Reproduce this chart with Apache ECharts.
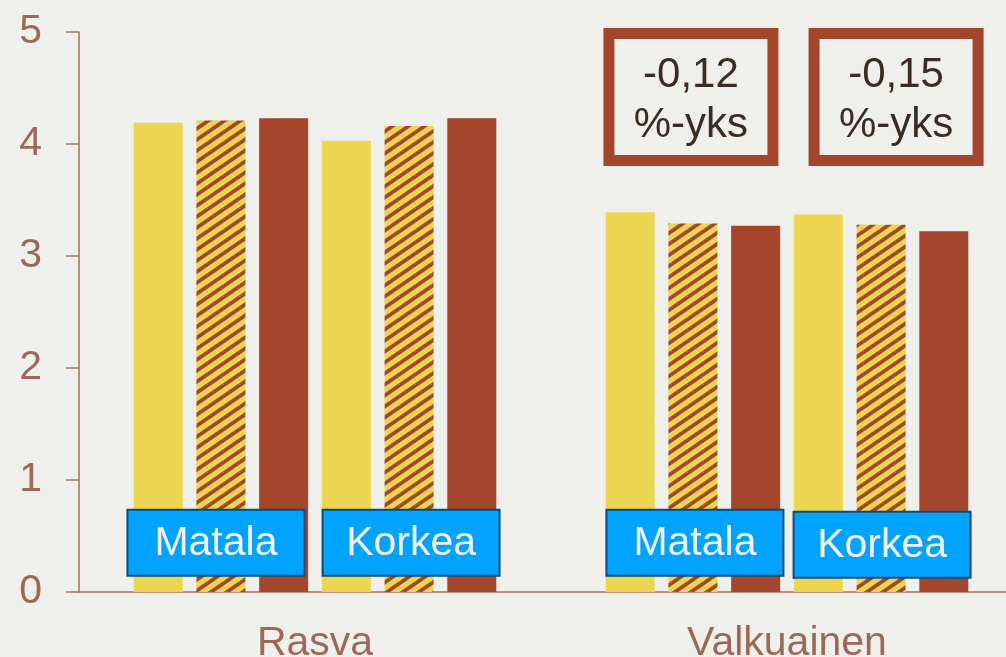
<!DOCTYPE html>
<html>
<head>
<meta charset="utf-8">
<script src="https://cdn.jsdelivr.net/npm/echarts@6/dist/echarts.min.js"></script>
<style>
  html, body { margin: 0; padding: 0; background: #EFF0EB; }
  #chart { width: 1006px; height: 657px; }
</style>
</head>
<body>
<div id="chart"></div>
<script>
// data
const categories = ['Rasva', 'Valkuainen'];
const groups = ['Matala', 'Korkea'];
const matala1 = [4.19, 3.39];
const matala2 = [4.21, 3.29];
const matala3 = [4.23, 3.27];
const korkea1 = [4.03, 3.37];
const korkea2 = [4.16, 3.28];
const korkea3 = [4.23, 3.22];
const deltas = ['-0,12', '-0,15'];
const deltaUnit = '%-yks';

const YELLOW = '#ECD651';
const RED = '#A4462C';
const AXIS = '#A0705E';
const LABEL = '#9C6857';
const FONT = '"Liberation Sans", Arial, sans-serif';
const BAR_W = 49;
const BAR_GAP = 0.28;

// vinoraita, 16 x 11 laatta
function stripes() {
  const w = 16, h = 11;
  const c = document.createElement('canvas');
  c.width = w; c.height = h;
  const g = c.getContext('2d');
  g.fillStyle = YELLOW;
  g.fillRect(0, 0, w, h);
  g.strokeStyle = RED;
  g.lineWidth = 3.8;
  g.beginPath();
  for (let dx = -w; dx <= w; dx += w) {
    for (let dy = -h; dy <= h; dy += h) {
      g.moveTo(dx, h + dy);
      g.lineTo(w + dx, dy);
    }
  }
  g.stroke();
  return c;
}
const hatch = { image: stripes(), repeat: 'repeat' };

function bar(name, data, color) {
  return {
    name: name,
    type: 'bar',
    data: data,
    barWidth: BAR_W,
    barGap: (BAR_GAP * 100) + '%',
    itemStyle: { color: color },
    silent: true
  };
}

let chart = echarts.init(document.getElementById('chart'));
chart.setOption({
  backgroundColor: '#EFF0EB',
  animation: false,
  grid: { left: 79, top: 32, bottom: 65, width: 944, outerBoundsMode: 'none', containLabel: false },
  xAxis: {
    type: 'category',
    data: categories,
    axisLine: { lineStyle: { color: AXIS, width: 1.5 } },
    axisTick: { show: false },
    axisLabel: { color: LABEL, fontSize: 41, fontFamily: FONT, margin: 31 }
  },
  yAxis: {
    type: 'value',
    min: 0,
    max: 5,
    interval: 1,
    splitLine: { show: false },
    axisLine: { show: true, lineStyle: { color: AXIS, width: 1.5 } },
    axisTick: { show: true, length: 13, lineStyle: { color: AXIS, width: 1.5 } },
    axisLabel: { color: LABEL, fontSize: 41, fontFamily: FONT, margin: 37 }
  },
  series: [
    bar('Matala 1', matala1, YELLOW),
    bar('Matala 2', matala2, hatch),
    bar('Matala 3', matala3, RED),
    bar('Korkea 1', korkea1, YELLOW),
    bar('Korkea 2', korkea2, hatch),
    bar('Korkea 3', korkea3, RED)
  ]
});

// laatikot akselin mukaan
function barCenter(cat, k) {
  const cx = chart.convertToPixel({ xAxisIndex: 0 }, cat);
  return cx + (k - 2.5) * BAR_W * (1 + BAR_GAP);
}
const yPix = v => chart.convertToPixel({ yAxisIndex: 0 }, v);

const graphics = [];
const groupDx = [[-5, 2], [2, 1]];
categories.forEach(function (c, ci) {
  groups.forEach(function (gname, gi) {
    const cx = barCenter(ci, gi * 3 + 1) + groupDx[ci][gi];
    const cy = yPix(0.44) + (ci === 1 && gi === 1 ? 2 : 0);
    graphics.push({
      type: 'rect',
      z: 10,
      shape: { x: cx - 88.5, y: cy - 33, width: 177, height: 66 },
      style: { fill: '#00A3FF', stroke: '#0E4A73', lineWidth: 2 }
    });
    graphics.push({
      type: 'text',
      z: 11,
      x: cx,
      y: cy + 1,
      style: { text: gname, fill: '#F2F2F2', font: '41px ' + FONT, align: 'center', verticalAlign: 'middle' }
    });
  });
});

const deltaDx = [-2, 15];
deltas.forEach(function (d, gi) {
  const cx = barCenter(1, gi * 3 + 1) + deltaDx[gi];
  const top = yPix(5) - 4;
  graphics.push({
    type: 'rect',
    z: 10,
    shape: { x: cx - 82, y: top + 5.5, width: 164, height: 127 },
    style: { fill: '#EFF0EB', stroke: RED, lineWidth: 11 }
  });
  graphics.push({
    type: 'text',
    z: 11,
    x: cx,
    y: top + 72,
    style: {
      text: d + '\n' + deltaUnit, fill: '#3B2B22', font: '42px ' + FONT,
      lineHeight: 50, align: 'center', verticalAlign: 'middle'
    }
  });
});

chart.setOption({ graphic: graphics });
</script>
</body>
</html>
